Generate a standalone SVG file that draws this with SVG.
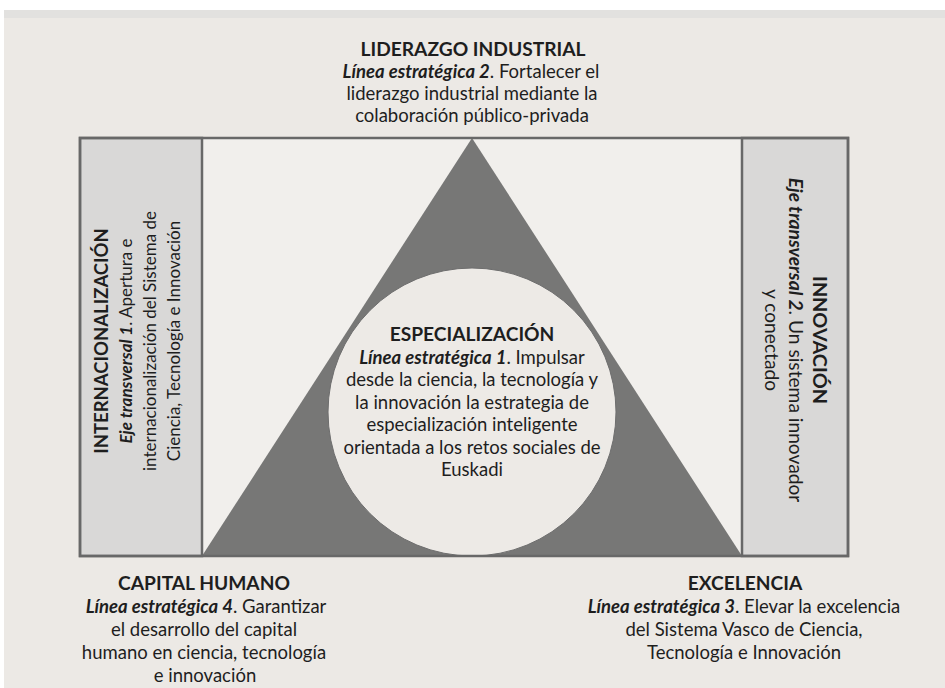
<svg xmlns="http://www.w3.org/2000/svg" width="945" height="688" viewBox="0 0 945 688">
<style>
text{font-family:Lato,"Liberation Sans",sans-serif;fill:#1e1e1e;font-size:18.5px}
.t{font-weight:bold;font-size:19.2px}
.i{font-weight:bold;font-style:italic}
.c{text-anchor:middle}
.l text{font-size:17px}
.l .t{font-size:18.5px}
.r text{font-size:19.2px}
.r .t{font-size:19.8px}
.frame{fill:none;stroke:#686868;stroke-width:2.5}
.panel{fill:#d9d8d7;stroke:#686868;stroke-width:2.5}
</style>
<rect width="945" height="688" fill="#ffffff"/>
<rect x="4" y="10" width="941" height="678" fill="#ece9e5"/>
<rect x="4" y="10" width="941" height="8" fill="#e2e1df"/>

<g id="frame">
<rect x="80" y="138" width="768" height="418" fill="#f1efec"/>
</g>

<g id="triangle">
<polygon points="472,138 202,556 742,556" fill="#777776"/>
</g>

<g id="especializacion">
<circle cx="472" cy="412" r="144" fill="#edeae6" stroke="#6e6e6e" stroke-width="1"/>
<text class="c t" x="472" y="341">ESPECIALIZACIÓN</text>
<text class="c" x="472" y="363.5"><tspan class="i">Línea estratégica 1</tspan>. Impulsar</text>
<text class="c" x="472" y="386">desde la ciencia, la tecnología y</text>
<text class="c" x="472" y="408.5">la innovación la estrategia de</text>
<text class="c" x="472" y="431">especialización inteligente</text>
<text class="c" x="472" y="453.5">orientada a los retos sociales de</text>
<text class="c" x="472" y="476">Euskadi</text>
</g>

<g id="internacionalizacion" class="l">
<rect class="panel" x="80" y="138" width="122" height="418"/>
<g transform="translate(0,341) rotate(-90)">
<text class="c t" x="0" y="108">INTERNACIONALIZACIÓN</text>
<text class="c" x="0" y="132"><tspan class="i">Eje transversal 1</tspan>. Apertura e</text>
<text class="c" x="0" y="156">internacionalización del Sistema de</text>
<text class="c" x="0" y="180">Ciencia, Tecnología e Innovación</text>
</g>
</g>

<g id="innovacion" class="r">
<rect class="panel" x="742" y="138" width="106" height="418"/>
<g transform="translate(0,340) rotate(90)">
<text class="c t" x="0" y="-813">INNOVACIÓN</text>
<text class="c" x="0" y="-789"><tspan class="i">Eje transversal 2</tspan>. Un sistema innovador</text>
<text class="c" x="0" y="-765">y conectado</text>
</g>
</g>

<g id="outline">
<rect class="frame" x="80" y="138" width="768" height="418"/>
</g>

<g id="liderazgo">
<text class="c t" x="473" y="56">LIDERAZGO INDUSTRIAL</text>
<text class="c" x="471" y="77.5"><tspan class="i">Línea estratégica 2</tspan>. Fortalecer el</text>
<text class="c" x="472" y="99.5">liderazgo industrial mediante la</text>
<text class="c" x="472" y="121.5">colaboración público-privada</text>
</g>

<g id="capital-humano">
<text class="c t" x="204" y="590">CAPITAL HUMANO</text>
<text class="c" x="206" y="613"><tspan class="i">Línea estratégica 4</tspan>. Garantizar</text>
<text class="c" x="204" y="636">el desarrollo del capital</text>
<text class="c" x="204" y="659">humano en ciencia, tecnología</text>
<text class="c" x="205" y="682">e innovación</text>
</g>

<g id="excelencia">
<text class="c t" x="745" y="590">EXCELENCIA</text>
<text class="c" x="744" y="613"><tspan class="i">Línea estratégica 3</tspan>. Elevar la excelencia</text>
<text class="c" x="744" y="636">del Sistema Vasco de Ciencia,</text>
<text class="c" x="744" y="659">Tecnología e Innovación</text>
</g>

<g id="connectors"/>
</svg>
